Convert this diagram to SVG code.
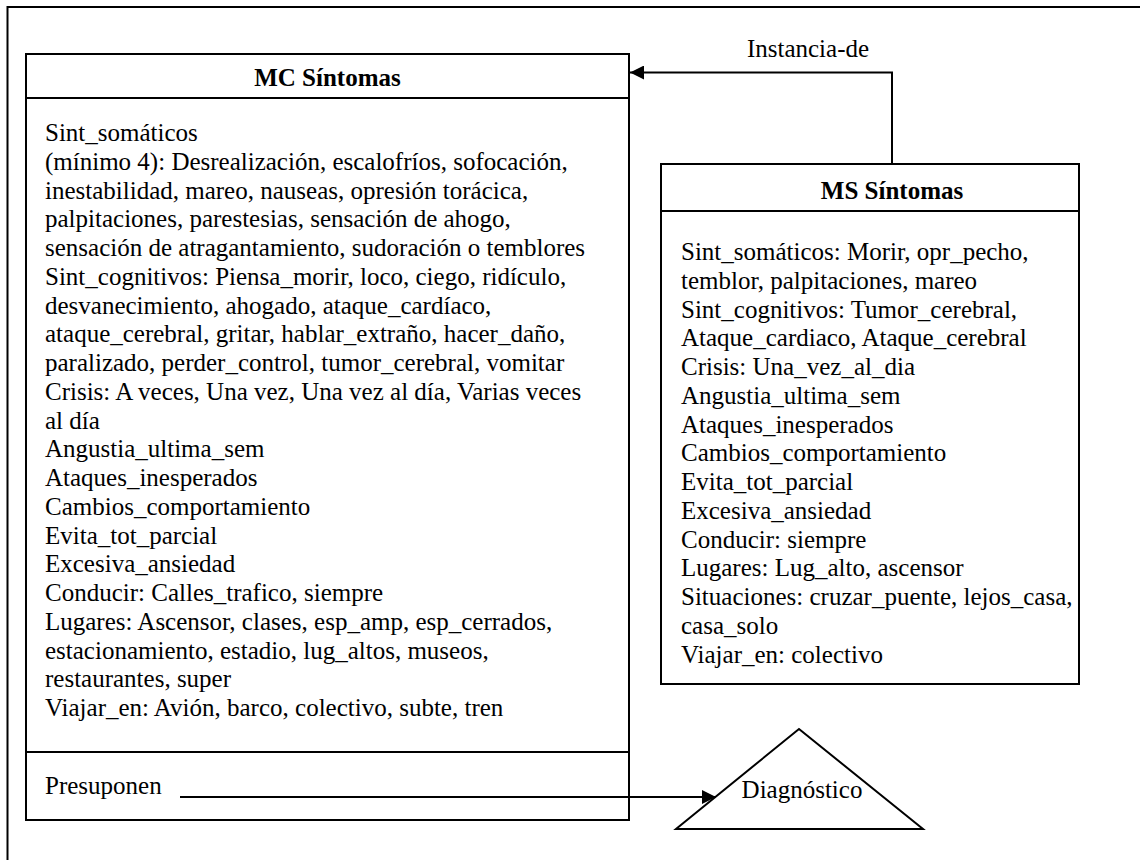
<svg xmlns="http://www.w3.org/2000/svg" width="1140" height="860" viewBox="0 0 1140 860">
<defs>
<style>
text{font-family:"Liberation Serif","Times New Roman","DejaVu Serif",serif;font-size:25px;fill:#000}
.b{font-weight:bold}
.box{fill:#fff;stroke:#000;stroke-width:2}
.ln{stroke:#000;stroke-width:2;fill:none}
</style>
<marker id="ah" viewBox="0 0 14 14" refX="14" refY="7" markerWidth="14" markerHeight="14" markerUnits="userSpaceOnUse" orient="auto">
<path d="M0,0 L14,7 L0,14 Z" fill="#000"/>
</marker>
</defs>
<rect x="0" y="0" width="1140" height="860" fill="#fff"/>
<rect x="7.5" y="7" width="1200" height="900" fill="none" stroke="#000" stroke-width="2"/>

<g id="mc-sintomas">
<rect class="box" x="26" y="54" width="603" height="766"/>
<line class="ln" x1="26" y1="98" x2="629" y2="98"/>
<line class="ln" x1="26" y1="752" x2="630" y2="752"/>
<text class="b" x="327.5" y="86" text-anchor="middle">MC Síntomas</text>
<text x="45" y="141">Sint_somáticos</text>
<text x="45" y="169.75">(mínimo 4): Desrealización, escalofríos, sofocación,</text>
<text x="45" y="198.5">inestabilidad, mareo, nauseas, opresión torácica,</text>
<text x="45" y="227.25">palpitaciones, parestesias, sensación de ahogo,</text>
<text x="45" y="256">sensación de atragantamiento, sudoración o temblores</text>
<text x="45" y="284.75">Sint_cognitivos: Piensa_morir, loco, ciego, ridículo,</text>
<text x="45" y="313.5">desvanecimiento, ahogado, ataque_cardíaco,</text>
<text x="45" y="342.25">ataque_cerebral, gritar, hablar_extraño, hacer_daño,</text>
<text x="45" y="371">paralizado, perder_control, tumor_cerebral, vomitar</text>
<text x="45" y="399.75">Crisis: A veces, Una vez, Una vez al día, Varias veces</text>
<text x="45" y="428.5">al día</text>
<text x="45" y="457.25">Angustia_ultima_sem</text>
<text x="45" y="486">Ataques_inesperados</text>
<text x="45" y="514.75">Cambios_comportamiento</text>
<text x="45" y="543.5">Evita_tot_parcial</text>
<text x="45" y="572.25">Excesiva_ansiedad</text>
<text x="45" y="601">Conducir: Calles_trafico, siempre</text>
<text x="45" y="629.75">Lugares: Ascensor, clases, esp_amp, esp_cerrados,</text>
<text x="45" y="658.5">estacionamiento, estadio, lug_altos, museos,</text>
<text x="45" y="687.25">restaurantes, super</text>
<text x="45" y="716">Viajar_en: Avión, barco, colectivo, subte, tren</text>
<text x="45" y="794">Presuponen</text>
</g>

<g id="ms-sintomas">
<rect class="box" x="661" y="164" width="418" height="520"/>
<line class="ln" x1="661" y1="211" x2="1079" y2="211"/>
<text class="b" x="892" y="199" text-anchor="middle">MS Síntomas</text>
<text x="681" y="260">Sint_somáticos: Morir, opr_pecho,</text>
<text x="681" y="288.75">temblor, palpitaciones, mareo</text>
<text x="681" y="317.5">Sint_cognitivos: Tumor_cerebral,</text>
<text x="681" y="346.25">Ataque_cardiaco, Ataque_cerebral</text>
<text x="681" y="375">Crisis: Una_vez_al_dia</text>
<text x="681" y="403.75">Angustia_ultima_sem</text>
<text x="681" y="432.5">Ataques_inesperados</text>
<text x="681" y="461.25">Cambios_comportamiento</text>
<text x="681" y="490">Evita_tot_parcial</text>
<text x="681" y="518.75">Excesiva_ansiedad</text>
<text x="681" y="547.5">Conducir: siempre</text>
<text x="681" y="576.25">Lugares: Lug_alto, ascensor</text>
<text x="681" y="605">Situaciones: cruzar_puente, lejos_casa,</text>
<text x="681" y="633.75">casa_solo</text>
<text x="681" y="662.5">Viajar_en: colectivo</text>
</g>

<g id="diagnostico">
<polygon points="799,729 923,829 676,829" fill="#fff" stroke="#000" stroke-width="2"/>
<text x="802" y="798" text-anchor="middle">Diagnóstico</text>
</g>

<g id="connectors">
<polyline class="ln" points="892,164 892,72.5 630,72.5" marker-end="url(#ah)"/>
<text x="808" y="57" text-anchor="middle">Instancia-de</text>
<line class="ln" x1="180" y1="797" x2="716" y2="797" marker-end="url(#ah)"/>
</g>
</svg>
